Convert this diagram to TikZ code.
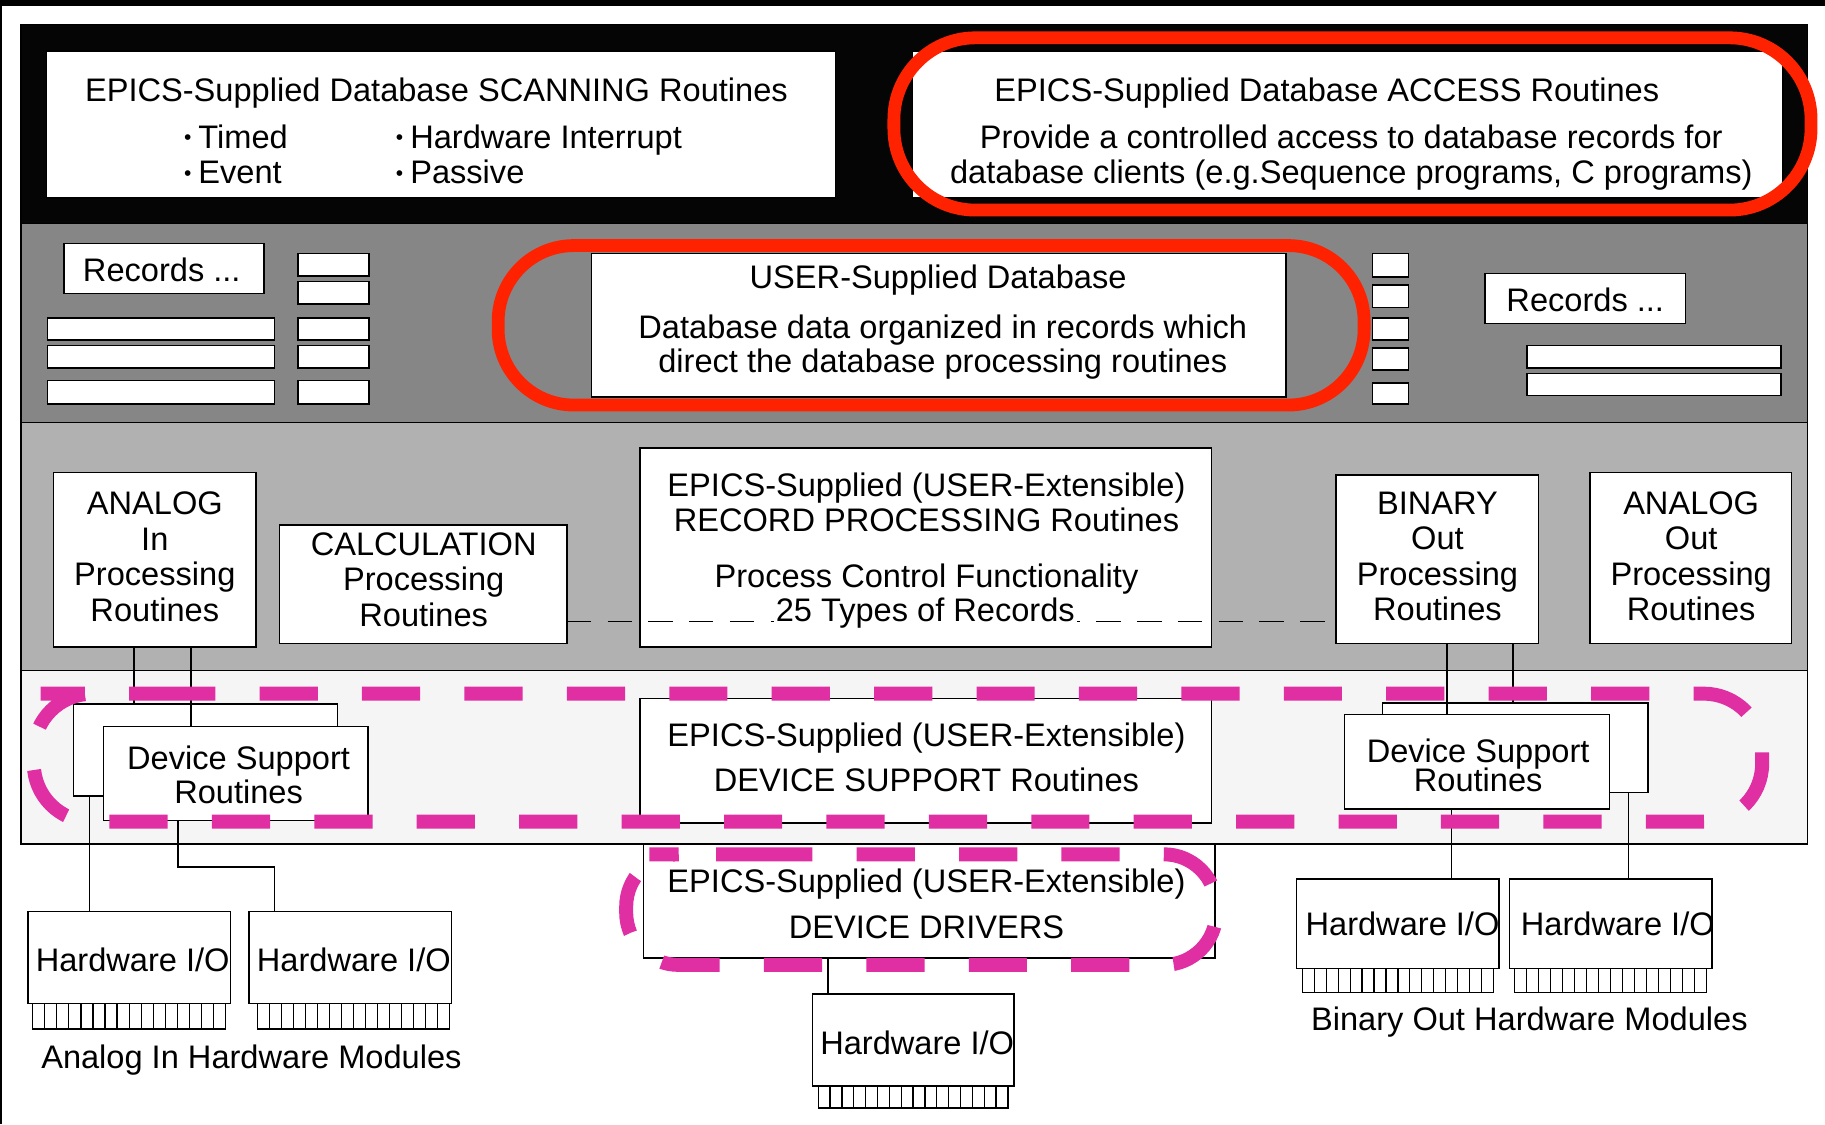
\documentclass[tikz,border=0pt]{standalone}
\usepackage{fontspec}
\setmainfont{Liberation Sans}
\definecolor{pnlA}{RGB}{5,5,5}
\definecolor{pnlB}{RGB}{134,134,134}
\definecolor{pnlC}{RGB}{177,177,177}
\definecolor{pnlD}{RGB}{245,245,245}
\definecolor{ovred}{RGB}{255,34,0}
\definecolor{ovmag}{RGB}{224,46,163}
\newcommand\fsz{\fontsize{28}{30.5}\selectfont}
\newcommand\smbul{\raisebox{3pt}{\fontsize{18}{18}\selectfont\textbullet}}
\newcommand\mkbox[6][]{\node[box,#1,minimum width={#5-#3},minimum height={#6-#4}] (#2) at ({(#3+#5)/2},{(#4+#6)/2}) {};}
\newcommand\mkpins[4]{%
  \draw[pinst] (#1,#2) rectangle (#3,#4);
  \foreach \k in {1,...,15} \draw[pinst] ({#1+\k*(#3-#1)/16},#2) -- ({#1+\k*(#3-#1)/16},#4);}
\tikzset{
  box/.style={draw=black, fill=white, line width=1.3pt, inner sep=0pt, outer sep=0pt},
  pnl/.style={draw=black, line width=1.3pt},
  pinst/.style={draw=black, fill=white, line width=1.1pt},
  txt/.style={font=\fsz, align=center, inner sep=0pt},
  lin/.style={txt, anchor=base},
  conn/.style={draw=black, line width=1.3pt},
  redoval/.style={draw=ovred, line width=11pt},
  magoval/.style={draw=ovmag, line width=12pt, dash pattern=on 50pt off 38pt},
}
\begin{document}
\begin{tikzpicture}[x=1pt,y=-1pt]
\useasboundingbox (0,0) rectangle (1568,966);
\fill[white] (0,0) rectangle (1568,966);
\fill[black] (0,0) rectangle (1568,5);
\fill[black] (0,0) rectangle (2,966);
% panels
\path[pnl, fill=pnlA] (18,21) rectangle (1553,192);
\path[pnl, fill=pnlB] (18,192) rectangle (1553,363);
\path[pnl, fill=pnlC] (18,363) rectangle (1553,576);
\path[pnl, fill=pnlD] (18,576) rectangle (1553,725);
% panel 1
\mkbox{scan}{40}{44}{718}{170}
\mkbox{access}{784}{44}{1532}{170}
% panel 2
\mkbox{recL}{55}{209}{227}{252}
\mkbox{recR}{1276}{235}{1448}{278}
\mkbox{userdb}{508}{218}{1105}{341}
\foreach \ya/\yb in {273/292,297/316,327/347} \draw[box] (41,\ya) rectangle (236,\yb);
\foreach \ya/\yb in {218/237,242/261,273/292,297/316,327/347} \draw[box] (256,\ya) rectangle (317,\yb);
\foreach \ya/\yb in {218/238,245/264,273/292,299/318,329/347} \draw[box] (1179,\ya) rectangle (1210,\yb);
\foreach \ya/\yb in {297/316,321/340} \draw[box] (1312,\ya) rectangle (1530,\yb);
% panel 3
\mkbox{analogin}{46}{406}{220}{556}
\mkbox{calc}{240}{451}{487}{553}
\mkbox{recproc}{550}{385}{1041}{556}
\mkbox{binout}{1148}{408}{1322}{553}
\mkbox{analogout}{1366}{406}{1539}{553}
% panel 4
\mkbox{devsup}{550}{600}{1041}{707}
\mkbox{dsLback}{63}{605}{290}{684}
\mkbox{dsRback}{1188}{604}{1416}{681}
\mkbox{drivers}{553}{725}{1044}{823}
% hardware
\mkbox{hwA}{24}{783}{198}{862}
\mkpins{28}{862}{194}{884}
\mkbox{hwB}{214}{783}{388}{862}
\mkpins{221}{862}{386}{884}
\mkbox{hwC}{698}{854}{871}{933}
\mkpins{703}{933}{866}{952}
\mkbox{hwD}{1114}{755}{1288}{832}
\mkpins{1119}{832}{1283}{853}
\mkbox{hwE}{1297}{755}{1471}{832}
\mkpins{1301}{832}{1466}{853}
% connectors to back boxes and below
\draw[conn] ([xshift=69pt]analogin.south west) -- ([xshift=52pt]dsLback.north west);
\draw[conn] ([xshift=14pt]dsLback.south west) -- ([xshift=53pt]hwA.north west);
\draw[conn] ([xshift=152pt]binout.south west) -- ([xshift=112pt]dsRback.north west);
\draw[conn] ([xshift=211pt]dsRback.south west) -- ([xshift=102pt]hwE.north west);
\draw[conn] ([xshift=158.5pt]drivers.south west) -- ([xshift=13.5pt]hwC.north west);
% front device support boxes
\mkbox{dsLfront}{89}{624}{316}{705}
\mkbox{dsRfront}{1155}{614}{1383}{695}
\draw[conn] ([xshift=118pt]analogin.south west) -- ([xshift=75pt]dsLfront.north west);
\draw[conn] ([xshift=95pt]binout.south west) -- ([xshift=88pt]dsRfront.north west);
\draw[conn] ([xshift=64pt]dsLfront.south west) |- ([xshift=22pt,yshift=38pt]hwB.north west) -- ([xshift=22pt]hwB.north west);
\draw[conn] ([xshift=92pt]dsRfront.south west) -- ([xshift=133pt]hwD.north west);
% dashed link
\draw[conn, dash pattern=on 21pt off 14pt] ([yshift=19pt]calc.south east) -- ([yshift=19pt]binout.south west);
% texts
\node[lin] (tScan) at (375,87) {EPICS-Supplied Database SCANNING Routines};
\node[txt, align=left, anchor=west] (tScanA) at (158,132.5) {\smbul\hspace{6pt}Timed\\\smbul\hspace{6pt}Event};
\node[txt, align=left, anchor=west] (tScanB) at (340,132.5) {\smbul\hspace{6pt}Hardware Interrupt\\\smbul\hspace{6pt}Passive};
\node[lin] (tAcc) at (1140,87) {EPICS-Supplied Database ACCESS Routines};
\node[txt] (tAccB) at (1161,135.5) {Provide a controlled access to database records for\\database clients (e.g.Sequence programs, C programs)};
\node[lin] (tRecL) at (139,242) {Records ...};
\node[lin] (tRecR) at (1362,268) {Records ...};
\node[lin] (tUser) at (806,248) {USER-Supplied Database};
\node[txt] (tUserB) at (810,298.5) {Database data organized in records which\\[-1.5pt]direct the database processing routines};
\node[txt] (tAin) at (133,478.5) {ANALOG\\In\\Processing\\Routines};
\node[txt] (tCalc) at (364,498) {CALCULATION\\Processing\\Routines};
\node[txt] (tRecA) at (796,458.5) {EPICS-Supplied (USER-Extensible)\\RECORD PROCESSING Routines\\[17.5pt]Process Control Functionality};
\node[lin, fill=white, inner sep=2pt] (tRecB) at (795,534) {25 Types of Records};
\node[txt] (tBout) at (1235,478) {BINARY\\Out\\Processing\\Routines};
\node[txt] (tAout) at (1453,478) {ANALOG\\Out\\Processing\\Routines};
\node[txt] (tDsL) at (205,665.5) {Device Support\\[-1.5pt]Routines};
\node[txt] (tDev) at (796,650.5) {EPICS-Supplied (USER-Extensible)\\[8.5pt]DEVICE SUPPORT Routines};
\node[txt] (tDsR) at (1270,657.5) {Device Support\\[-5pt]Routines};
\node[txt] (tDrv) at (796,776.5) {EPICS-Supplied (USER-Extensible)\\[8.5pt]DEVICE DRIVERS};
\node[lin] (tHwA) at (114,835) {Hardware I/O};
\node[lin] (tHwB) at (304,835) {Hardware I/O};
\node[lin] (tHwC) at (788,906) {Hardware I/O};
\node[lin] (tHwD) at (1205,804) {Hardware I/O};
\node[lin] (tHwE) at (1390,804) {Hardware I/O};
\node[lin] (tAinMod) at (216,918) {Analog In Hardware Modules};
\node[lin] (tBoutMod) at (1314,885) {Binary Out Hardware Modules};
% highlight ovals
\draw[redoval, rounded corners=70pt] (768,32.5) rectangle (1556,180.5);
\draw[redoval, rounded corners=65pt] (428,211) rectangle (1172,348);
\draw[magoval, rounded corners=50pt] (85,596) -- (1514,596) -- (1514,706) -- (29,706) -- (29,596) -- cycle;
\draw[magoval, rounded corners=45pt] (603,734) -- (1045,734) -- (1045,829) -- (538,829) -- (538,734) -- cycle;
\end{tikzpicture}
\end{document}
